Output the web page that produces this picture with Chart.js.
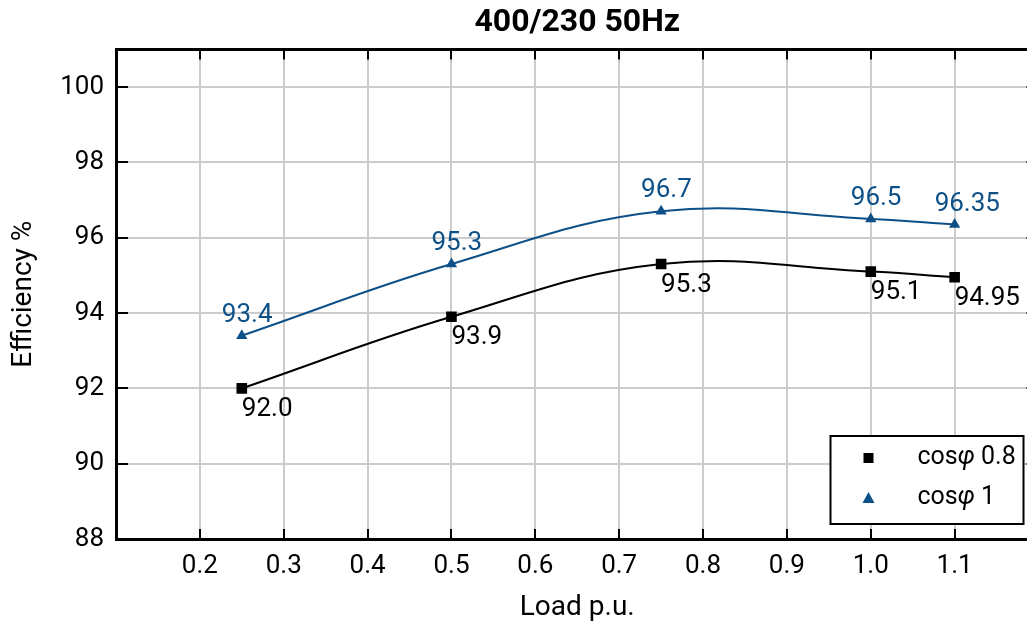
<!DOCTYPE html>
<html>
<head>
<meta charset="utf-8">
<script src="https://cdn.jsdelivr.net/npm/chart.js@4/dist/chart.umd.min.js"></script>
<style>
  html, body { margin: 0; padding: 0; background: #fff; overflow: hidden; }
  #wrap { position: relative; width: 1046px; height: 626px; }
</style>
</head>
<body>
<div id="wrap"><canvas id="chart"></canvas></div>
<script>
const loads = [0.25, 0.5, 0.75, 1.0, 1.1];
const effPf08 = [92.0, 93.9, 95.3, 95.1, 94.95];
const effPf1 = [93.4, 95.3, 96.7, 96.5, 96.35];
const labelsPf08 = ['92.0', '93.9', '95.3', '95.1', '94.95'];
const labelsPf1 = ['93.4', '95.3', '96.7', '96.5', '96.35'];
const xTicks = [0.2, 0.3, 0.4, 0.5, 0.6, 0.7, 0.8, 0.9, 1.0, 1.1];
const yTicks = [88, 90, 92, 94, 96, 98, 100];

const BLUE = '#0d5088';
const FONT = 'Roboto, "DejaVu Sans", sans-serif';

const xy = (ys) => loads.map((x, i) => ({ x: x, y: ys[i] }));

// inward tick marks on all four sides + top/right border
const framePlugin = {
  id: 'frame',
  afterDraw(chart) {
    const { ctx, chartArea: a, scales } = chart;
    ctx.save();
    ctx.strokeStyle = '#000';
    ctx.lineWidth = 2;
    ctx.beginPath();
    xTicks.forEach(v => {
      const px = Math.round(scales.x.getPixelForValue(v));
      ctx.moveTo(px, a.bottom); ctx.lineTo(px, a.bottom - 10);
      ctx.moveTo(px, a.top); ctx.lineTo(px, a.top + 10);
    });
    yTicks.forEach(v => {
      const py = Math.round(scales.y.getPixelForValue(v));
      ctx.moveTo(a.left, py); ctx.lineTo(a.left + 12, py);
      ctx.moveTo(a.right, py); ctx.lineTo(a.right - 12, py);
    });
    ctx.stroke();
    ctx.lineWidth = 3;
    ctx.beginPath();
    ctx.moveTo(a.left, a.top); ctx.lineTo(a.right, a.top); ctx.lineTo(a.right, a.bottom);
    ctx.stroke();
    ctx.restore();
  }
};

// value labels next to each point
const valueLabels = {
  id: 'valueLabels',
  afterDatasetsDraw(chart) {
    const { ctx } = chart;
    ctx.save();
    ctx.font = '26px ' + FONT;
    ctx.textAlign = 'left';
    chart.data.datasets.forEach((ds, di) => {
      const meta = chart.getDatasetMeta(di);
      meta.data.forEach((pt, i) => {
        if (di === 0) {
          ctx.fillStyle = '#000';
          ctx.textBaseline = 'top';
          ctx.fillText(labelsPf08[i], pt.x, pt.y + 8);
        } else {
          ctx.fillStyle = BLUE;
          ctx.textBaseline = 'alphabetic';
          ctx.fillText(labelsPf1[i], pt.x - 20, pt.y - 14);
        }
      });
    });
    ctx.restore();
  }
};

// boxed legend inside the lower right corner
const boxLegend = {
  id: 'boxLegend',
  afterDraw(chart) {
    const { ctx, chartArea: a } = chart;
    const x0 = a.right - 208, y0 = a.bottom - 103, w = 193, h = 88;
    ctx.save();
    ctx.fillStyle = '#fff';
    ctx.fillRect(x0, y0, w, h);
    ctx.strokeStyle = '#000';
    ctx.lineWidth = 2;
    ctx.strokeRect(x0, y0, w, h);
    ctx.textBaseline = 'middle';
    chart.data.datasets.forEach((ds, i) => {
      const cy = y0 + 22 + i * 40;
      const mx = x0 + 38;
      ctx.fillStyle = ds.borderColor;
      if (ds.pointStyle === 'rect') {
        ctx.fillRect(mx - 5, cy - 5, 10, 10);
      } else {
        ctx.beginPath();
        ctx.moveTo(mx, cy - 6); ctx.lineTo(mx + 6, cy + 5); ctx.lineTo(mx - 6, cy + 5);
        ctx.closePath(); ctx.fill();
      }
      // "cos" + italic phi + value
      ctx.fillStyle = '#000';
      const [pre, post] = ds.label.split('\u03c6');
      let tx = x0 + 87;
      ctx.font = '25px ' + FONT;
      ctx.fillText(pre, tx, cy);
      tx += ctx.measureText(pre).width;
      ctx.font = 'italic 25px ' + FONT;
      ctx.fillText('\u03c6', tx, cy);
      tx += ctx.measureText('\u03c6').width;
      ctx.font = '25px ' + FONT;
      ctx.fillText(post, tx, cy);
    });
    ctx.restore();
  }
};

new Chart(document.getElementById('chart'), {
  type: 'line',
  data: {
    datasets: [
      {
        label: 'cos\u03c6 0.8',
        data: xy(effPf08),
        borderColor: '#000',
        backgroundColor: '#000',
        borderWidth: 2,
        tension: 0.4,
        pointStyle: 'rect',
        pointRadius: 7.5,
        pointBorderWidth: 0,
      },
      {
        label: 'cos\u03c6 1',
        data: xy(effPf1),
        borderColor: BLUE,
        backgroundColor: BLUE,
        borderWidth: 2,
        tension: 0.4,
        pointStyle: 'triangle',
        pointRadius: 6.5,
        pointBorderWidth: 0,
      },
    ],
  },
  options: {
    responsive: true,
    maintainAspectRatio: false,
    animation: false,
    layout: { padding: { left: 0, right: 0, top: 0, bottom: 0 } },
    plugins: {
      legend: { display: false },
      tooltip: { enabled: false },
      title: {
        display: true,
        fullSize: false,
        text: '400/230 50Hz',
        color: '#000',
        font: { family: FONT, size: 32, weight: 'bold' },
        padding: { top: 4, bottom: 7 },
      },
    },
    scales: {
      x: {
        type: 'linear',
        min: 0.1,
        max: 1.2,
        afterBuildTicks: (s) => { s.ticks = xTicks.map(v => ({ value: v })); },
        afterFit: (s) => { s.height = 87; },
        grid: { color: '#cccccc', lineWidth: 2, drawTicks: false },
        border: { color: '#000', width: 3 },
        ticks: {
          color: '#000',
          padding: 12,
          font: { family: FONT, size: 26 },
          callback: (v) => v.toFixed(1),
        },
        title: {
          display: true,
          text: 'Load p.u.',
          color: '#000',
          font: { family: FONT, size: 28 },
          padding: { top: 4, bottom: 1 },
        },
      },
      y: {
        min: 88,
        max: 101,
        afterBuildTicks: (s) => { s.ticks = yTicks.map(v => ({ value: v })); },
        afterFit: (s) => { s.width = 116; },
        grid: { color: '#cccccc', lineWidth: 2, drawTicks: false },
        border: { color: '#000', width: 3 },
        ticks: {
          color: '#000',
          padding: 12,
          font: { family: FONT, size: 26 },
        },
        title: {
          display: true,
          text: 'Efficiency %',
          color: '#000',
          font: { family: FONT, size: 28 },
          padding: { top: 7, bottom: 4 },
        },
      },
    },
  },
  plugins: [framePlugin, valueLabels, boxLegend],
});
</script>
</body>
</html>
